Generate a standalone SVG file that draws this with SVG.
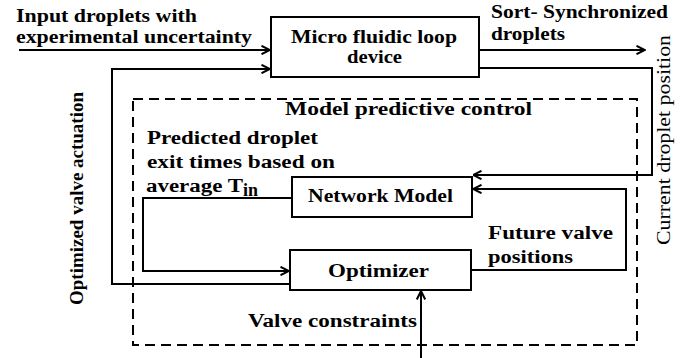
<svg xmlns="http://www.w3.org/2000/svg" width="689" height="358" viewBox="0 0 689 358">
  <style>
    .box { fill: #fff; stroke: #000; stroke-width: 2; }
    .dash { fill: none; stroke: #000; stroke-width: 2; stroke-dasharray: 10 6; }
    .wire { fill: none; stroke: #000; stroke-width: 2; }
    .arr { marker-end: url(#head); }
    text { font-family: "Liberation Serif", "Times New Roman", serif; font-weight: bold; font-size: 18px; fill: #000; }
    .reg { font-weight: normal; }
  </style>
  <defs>
    <marker id="head" viewBox="0 0 10 10" refX="9.5" refY="5" markerWidth="10" markerHeight="10" markerUnits="userSpaceOnUse" orient="auto">
      <path d="M1,0.8 L9.5,5 L1,9.2" fill="none" stroke="#000" stroke-width="2"/>
    </marker>
  </defs>
  <rect width="689" height="358" fill="#fff"/>

  <!-- controller boundary -->
  <g id="mpc">
    <rect class="dash" x="133" y="99" width="504" height="246"/>
    <text x="285" y="115" textLength="247" lengthAdjust="spacingAndGlyphs">Model predictive control</text>
  </g>

  <!-- connectors -->
  <g id="connectors">
    <path class="wire arr" d="M19,50 H270"/>
    <path class="wire arr" d="M290,284 H112 V69 H270"/>
    <path class="wire arr" d="M479,50 H645"/>
    <path class="wire arr" d="M479,68 H652 V175 H473"/>
    <path class="wire arr" d="M471,270 H626 V189 H473"/>
    <path class="wire arr" d="M291,198 H143 V271 H289"/>
    <path class="wire arr" d="M421,358 V291"/>
  </g>

  <g id="micro-fluidic-loop">
    <rect class="box" x="271" y="17" width="208" height="60"/>
    <text x="374" y="43" text-anchor="middle" textLength="166" lengthAdjust="spacingAndGlyphs">Micro fluidic loop</text>
    <text x="374.5" y="63" text-anchor="middle" textLength="55" lengthAdjust="spacingAndGlyphs">device</text>
  </g>

  <g id="network-model">
    <rect class="box" x="292" y="177" width="180" height="40"/>
    <text x="380.5" y="202" text-anchor="middle" textLength="145" lengthAdjust="spacingAndGlyphs">Network Model</text>
  </g>

  <g id="optimizer">
    <rect class="box" x="290" y="250" width="181" height="40"/>
    <text x="378.5" y="277" text-anchor="middle" textLength="101" lengthAdjust="spacingAndGlyphs">Optimizer</text>
  </g>

  <!-- signal labels -->
  <g id="labels">
    <text x="16" y="22" textLength="181" lengthAdjust="spacingAndGlyphs">Input droplets with</text>
    <text x="16" y="43" textLength="236" lengthAdjust="spacingAndGlyphs">experimental uncertainty</text>
    <text x="491" y="18" textLength="177" lengthAdjust="spacingAndGlyphs">Sort- Synchronized</text>
    <text x="491" y="40" textLength="74" lengthAdjust="spacingAndGlyphs">droplets</text>
    <text x="147" y="144" textLength="171" lengthAdjust="spacingAndGlyphs">Predicted droplet</text>
    <text x="147" y="168" textLength="188" lengthAdjust="spacingAndGlyphs">exit times based on</text>
    <text x="146" y="192" textLength="97" lengthAdjust="spacingAndGlyphs">average T</text>
    <text x="243" y="196" font-size="13" textLength="15" lengthAdjust="spacingAndGlyphs">in</text>
    <text x="488" y="239" textLength="125" lengthAdjust="spacingAndGlyphs">Future valve</text>
    <text x="488" y="263" textLength="85" lengthAdjust="spacingAndGlyphs">positions</text>
    <text x="248" y="327" textLength="169" lengthAdjust="spacingAndGlyphs">Valve constraints</text>
    <text transform="translate(83,198.5) rotate(-90)" font-size="23" text-anchor="middle" textLength="213" lengthAdjust="spacingAndGlyphs">Optimized valve actuation</text>
    <text class="reg" transform="translate(670,140) rotate(-90)" font-size="22" text-anchor="middle" textLength="210" lengthAdjust="spacingAndGlyphs">Current droplet position</text>
  </g>
</svg>
